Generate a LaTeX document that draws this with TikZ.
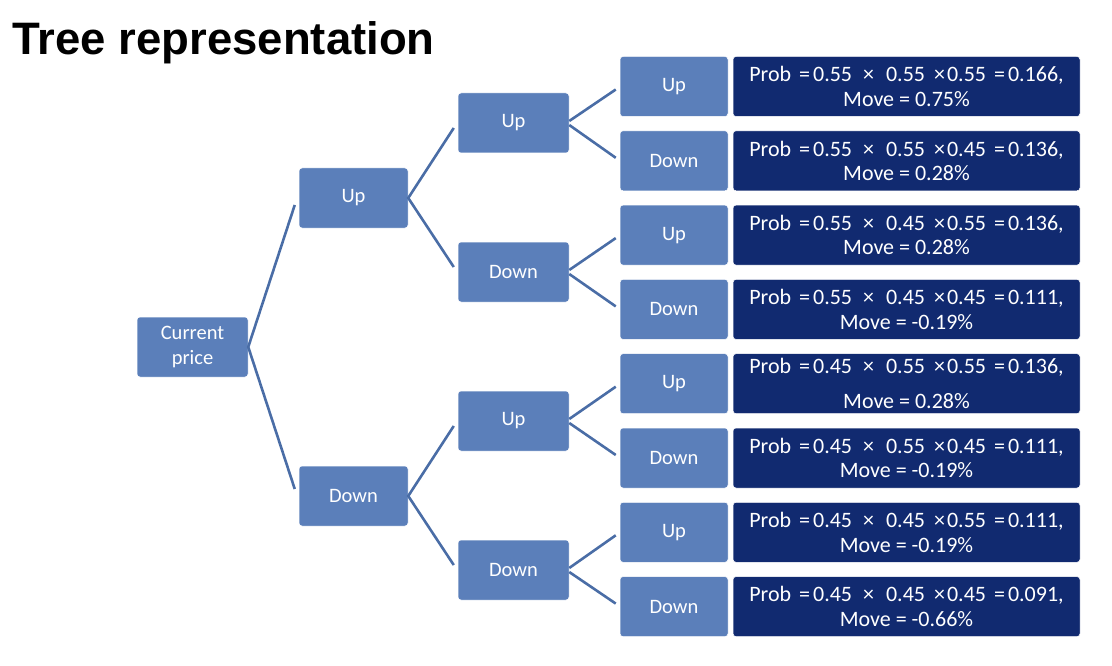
\documentclass[tikz,border=0pt]{standalone}
\usepackage{fontspec}
\setmainfont{Carlito}
\newfontfamily\titlefont{Liberation Sans}
\usetikzlibrary{calc}
\definecolor{boxblue}{HTML}{5B7FBA}
\definecolor{navybox}{HTML}{112A70}
\definecolor{linkblue}{HTML}{4A6DA6}
\newcommand{\pline}[4]{Prob\hspace{8pt}=\hspace{3pt}#1\hspace{11pt}×\hspace{12pt}#2\hspace{9pt}×\hspace{2pt}#3\hspace{8pt}=\hspace{3pt}#4,}
\begin{document}
\begin{tikzpicture}[x=1pt,y=-1pt,
  lbox/.style={rectangle, rounded corners=3pt, fill=boxblue, draw=white, line width=0.5pt,
    text=white, minimum height=60pt, inner sep=0pt, align=center,
    font=\fontsize{20.5}{24.5}\selectfont},
  rbox/.style={rectangle, rounded corners=3pt, fill=navybox, draw=white, line width=0.5pt,
    text=white, minimum height=60pt, minimum width=347pt, inner sep=0pt, align=center,
    font=\fontsize{22}{24.5}\selectfont},
  conn/.style={draw=linkblue, line width=2.6pt}]
\useasboundingbox (0,0) rectangle (1112,666);

\node[anchor=base west, font=\titlefont\bfseries\fontsize{45.5}{48}\selectfont] (title) at (9,55) {Tree representation};

\node[lbox, minimum width=111pt] (cp) at (192.5,347) {Current\\price};
\node[lbox, minimum width=109pt] (u) at (353.5,198) {Up};
\node[lbox, minimum width=109pt] (d) at (353.5,496) {Down};
\node[lbox, minimum width=111pt] (uu) at (513.5,123) {Up};
\node[lbox, minimum width=111pt] (ud) at (513.5,272) {Down};
\node[lbox, minimum width=111pt] (du) at (513.5,421) {Up};
\node[lbox, minimum width=111pt] (dd) at (513.5,570) {Down};

\foreach \n/\y/\t in {a/86.5/Up, b/160.8/Down, c/235.1/Up, e/309.4/Down, f/383.7/Up, g/458/Down, h/532.3/Up, k/606.6/Down}{
  \node[lbox, minimum width=108pt] (l\n) at (674,\y) {\t};
}

\node[rbox] (ra) at (906.5,86.5) {\pline{0.55}{0.55}{0.55}{0.166}\\ Move = 0.75\%};
\node[rbox] (rb) at (906.5,160.8) {\pline{0.55}{0.55}{0.45}{0.136}\\ Move = 0.28\%};
\node[rbox] (rc) at (906.5,235.1) {\pline{0.55}{0.45}{0.55}{0.136}\\ Move = 0.28\%};
\node[rbox] (re) at (906.5,309.4) {\pline{0.55}{0.45}{0.45}{0.111}\\ Move = -0.19\%};
\node[rbox] (rf) at (906.5,383.7) {\pline{0.45}{0.55}{0.55}{0.136}\\[10pt] Move = 0.28\%};
\node[rbox] (rg) at (906.5,458) {\pline{0.45}{0.55}{0.45}{0.111}\\ Move = -0.19\%};
\node[rbox] (rh) at (906.5,532.3) {\pline{0.45}{0.45}{0.55}{0.111}\\ Move = -0.19\%};
\node[rbox] (rk) at (906.5,606.6) {\pline{0.45}{0.45}{0.45}{0.091}\\ Move = -0.66\%};

% connectors
\draw[conn] ($(u.west)+(-4,7)$) -- (cp.east) -- ($(d.west)+(-4,-7)$);
\draw[conn] ($(uu.west)+(-4,5)$) -- (u.east) -- ($(ud.west)+(-4,-5)$);
\draw[conn] ($(du.west)+(-4,5)$) -- (d.east) -- ($(dd.west)+(-4,-5)$);
\draw[conn] ($(la.west)+(-4,3)$) -- ($(uu.east)+(0,-2)$);
\draw[conn] ($(lb.west)+(-4,-3)$) -- ($(uu.east)+(0,2)$);
\draw[conn] ($(lc.west)+(-4,3)$) -- ($(ud.east)+(0,-2)$);
\draw[conn] ($(le.west)+(-4,-3)$) -- ($(ud.east)+(0,2)$);
\draw[conn] ($(lf.west)+(-4,3)$) -- ($(du.east)+(0,-2)$);
\draw[conn] ($(lg.west)+(-4,-3)$) -- ($(du.east)+(0,2)$);
\draw[conn] ($(lh.west)+(-4,3)$) -- ($(dd.east)+(0,-2)$);
\draw[conn] ($(lk.west)+(-4,-3)$) -- ($(dd.east)+(0,2)$);
\end{tikzpicture}
\end{document}
